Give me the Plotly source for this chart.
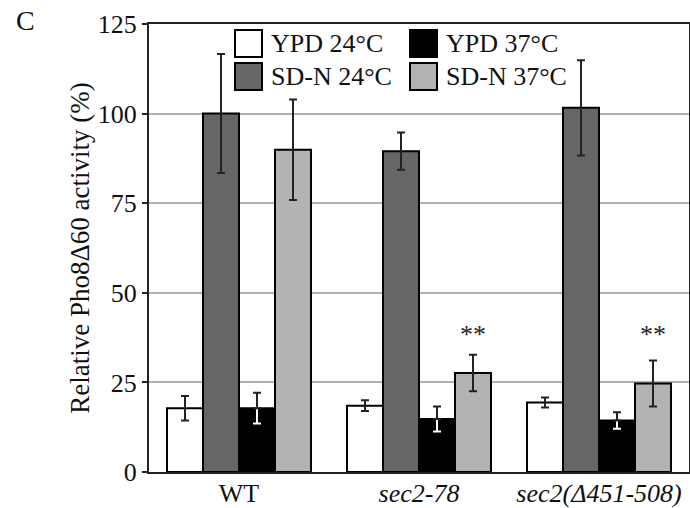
import plotly.graph_objects as go

categories = ["WT", "sec2-78", "sec2(Δ451-508)"]
tick_labels = ["WT", "<i>sec2-78</i>", "<i>sec2(Δ451-508)</i>"]
series_names = ["YPD 24°C", "SD-N 24°C", "YPD 37°C", "SD-N 37°C"]

ypd24 = [17.8, 18.5, 19.4]
ypd24_err = [3.4, 1.5, 1.4]
sdn24 = [100.0, 89.5, 101.6]
sdn24_err = [16.6, 5.2, 13.3]
ypd37 = [17.8, 14.8, 14.4]
ypd37_err = [4.3, 3.5, 2.3]
sdn37 = [89.9, 27.6, 24.7]
sdn37_err = [14.0, 5.1, 6.4]

significance = ["", "**", "**"]
star_level = 38.5

colors = ["#ffffff", "#666666", "#000000", "#b3b3b3"]
FONT = "Liberation Serif"
ERR = "#222222"

fig = go.Figure()

def add_bar(name, vals, errs, color, grp, errcolor):
    fig.add_trace(go.Bar(
        x=categories, y=vals, name=name, offsetgroup=grp,
        marker=dict(color=color, line=dict(color="#000000", width=2)),
        error_y=dict(type="data", array=errs, visible=True, color=errcolor,
                     thickness=2, width=4),
        showlegend=False,
    ))

add_bar(series_names[0], ypd24, ypd24_err, colors[0], "a", ERR)
add_bar(series_names[1], sdn24, sdn24_err, colors[1], "b", ERR)
add_bar(series_names[2], ypd37, ypd37_err, colors[2], "c", "#ffffff")
add_bar(series_names[3], sdn37, sdn37_err, colors[3], "d", ERR)
# upper half of the YPD 37°C error bars drawn dark (above the black bar)
fig.add_trace(go.Bar(
    x=categories, y=ypd37, offsetgroup="c", showlegend=False, hoverinfo="skip",
    marker=dict(color="rgba(0,0,0,0)", line=dict(width=0)),
    error_y=dict(type="data", symmetric=False, array=ypd37_err,
                 arrayminus=[0] * len(ypd37_err), color=ERR, thickness=2, width=4),
))

# significance marks above SD-N 37°C bars
for cat, s in zip(categories, significance):
    if s:
        fig.add_annotation(x=cat, y=star_level, xref="x", yref="y", text=s,
                           showarrow=False, xshift=54, yanchor="middle",
                           font=dict(family=FONT, size=26, color="#222222"))

# manual legend (2 x 2)
L, R, T, B = 149, 689, 24, 472
def px(x):
    return (x - L) / (R - L)
def py(y):
    return (B - y) / (B - T)

legend_items = [
    (series_names[0], colors[0], 235, 30),
    (series_names[2], colors[2], 410, 30),
    (series_names[1], colors[1], 235, 63),
    (series_names[3], colors[3], 410, 63),
]
for name, col, x0, y0 in legend_items:
    fig.add_shape(type="rect", xref="paper", yref="paper",
                  x0=px(x0), x1=px(x0 + 27), y0=py(y0), y1=py(y0 + 27),
                  fillcolor=col, line=dict(color="#000000", width=2))
    fig.add_annotation(xref="paper", yref="paper", x=px(x0 + 34), y=py(y0 + 14),
                       text=name, showarrow=False, xanchor="left", yanchor="middle",
                       font=dict(family=FONT, size=26, color="#111111"))

fig.add_annotation(xref="paper", yref="paper", x=px(14), y=py(20), text="C",
                   showarrow=False, xanchor="left", yanchor="middle",
                   font=dict(family=FONT, size=28, color="#111111"))

fig.update_layout(
    width=690, height=508,
    margin=dict(l=149, r=1, t=24, b=36, autoexpand=False),
    paper_bgcolor="white", plot_bgcolor="white",
    barmode="group", bargap=0.2, bargroupgap=0,
    font=dict(family=FONT, color="#111111"),
)
fig.update_xaxes(
    tickvals=categories, ticktext=tick_labels, tickfont=dict(size=26),
    showline=True, linecolor="#222222", linewidth=2, mirror=True,
    ticks="", showgrid=False, range=[-0.5, 2.5], ticklabelstandoff=-3,
)
fig.update_yaxes(
    range=[0, 125], dtick=25, tickfont=dict(size=26),
    showline=True, linecolor="#222222", linewidth=2, mirror=True,
    ticks="outside", ticklen=5, tickcolor="#222222", tickwidth=2,
    showgrid=True, gridcolor="#b0b0b0", gridwidth=2, zeroline=False,
    title=dict(text="Relative Pho8Δ60 activity (%)", font=dict(size=27), standoff=0),
)

fig.write_html(
    "out.html",
    config={"displayModeBar": False},
    post_script="document.body.style.margin='0';document.body.style.padding='0';"
                "document.body.style.overflow='hidden';",
)
